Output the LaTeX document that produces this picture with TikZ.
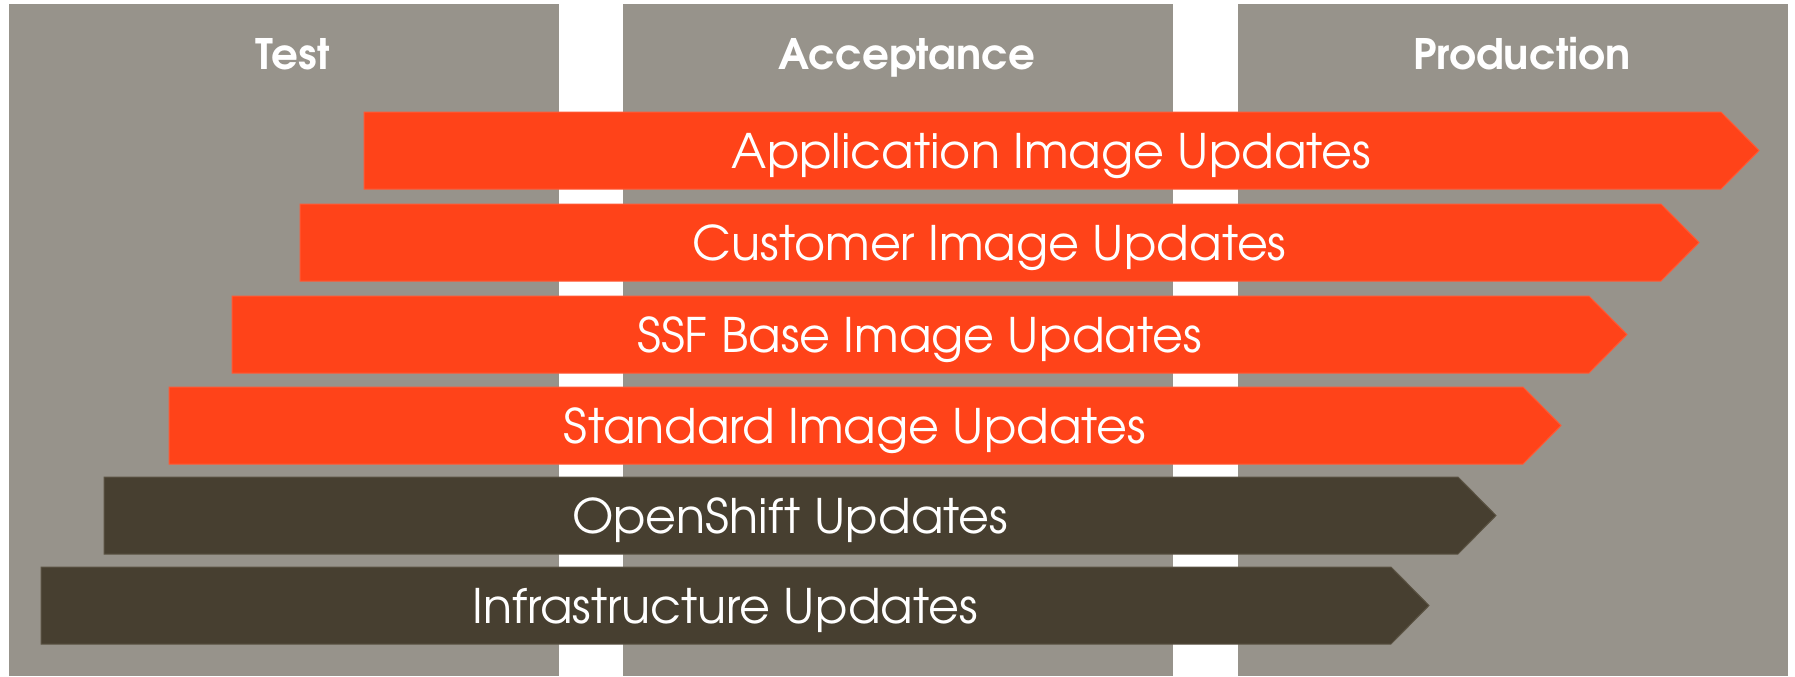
\documentclass[tikz,border=0pt]{standalone}
\usepackage{fontspec}
\newfontfamily\stagefont[Extension=.otf,UprightFont=texgyreadventor-regular,BoldFont=texgyreadventor-bold]{texgyreadventor}
\usepackage{tikz}
\usepackage{xcolor}

\definecolor{stagegray}{HTML}{97938B}
\definecolor{updorange}{HTML}{FF4319}
\definecolor{updorangeline}{HTML}{FF5A36}
\definecolor{upddark}{HTML}{473F30}
\definecolor{upddarkline}{HTML}{5C5444}

\tikzset{
    stagecol/.style={fill=stagegray},
    stagehead/.style={text=white, anchor=base, font=\stagefont\bfseries\fontsize{21}{24}\selectfont},
    imgbar/.style={fill=updorange, draw=updorangeline, line width=0.5pt},
    infbar/.style={fill=upddark, draw=upddarkline, line width=0.5pt},
    barlabel/.style={text=white, anchor=base, font=\stagefont\fontsize{23.8}{27}\selectfont}
}

\begin{document}
\begin{tikzpicture}[x=0.5pt, y=-0.5pt]
        \fill[white] (0,0) rectangle (1795,676);
        \useasboundingbox (0,0) rectangle (1795,676);
        % stages
        \foreach \s/\xa/\txt in {test/9/Test, acc/623/Acceptance, prod/1238/Production} {
            \fill[stagecol] (\xa,4) rectangle (\xa+550,676);
            \node[stagehead] (\s) at (\xa+284,69) {\txt};
        }
        % update bars
        \foreach \b/\l/\r/\t/\sty/\txt in {
                app/364/1721/112/imgbar/Application Image Updates,
                cust/300/1661/204/imgbar/Customer Image Updates,
                ssf/232/1589/296/imgbar/SSF Base Image Updates,
                std/169/1523/387/imgbar/Standard Image Updates,
                ocp/104/1458/477/infbar/OpenShift Updates,
                infra/41/1391/567/infbar/Infrastructure Updates} {
            \path[\sty] (\l,\t) -- (\r,\t) -- (\r+38,\t+38.5) -- (\r,\t+77) -- (\l,\t+77) -- cycle;
            \node[barlabel] (\b) at ({(\l+\r)/2+9},\t+56) {\txt};
        }
    \end{tikzpicture}
\end{document}
